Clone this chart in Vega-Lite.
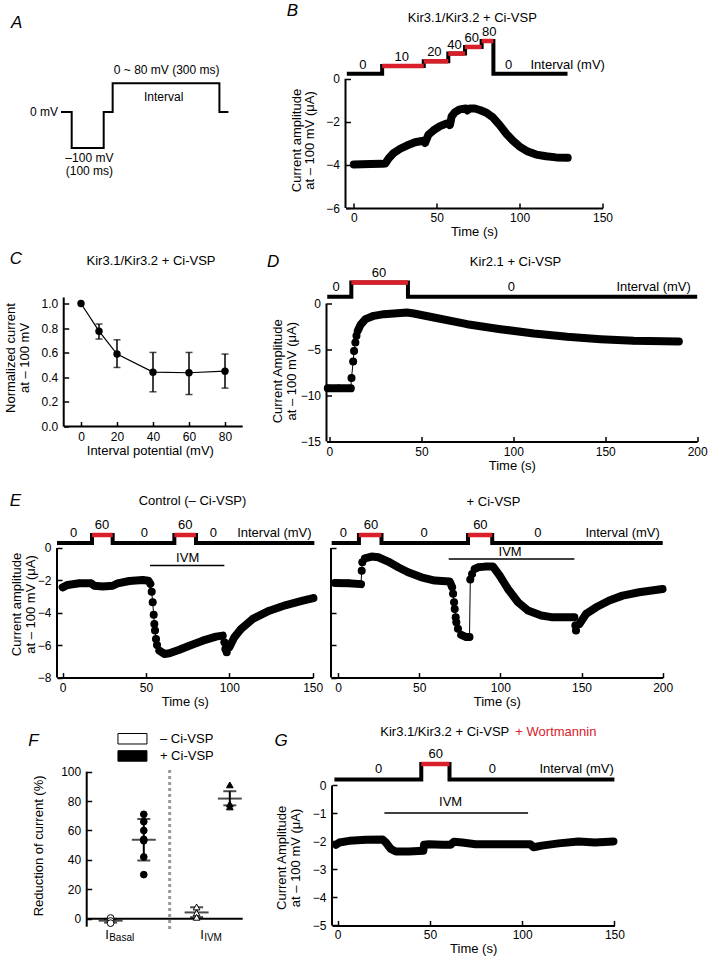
{
  "$schema": "https://vega.github.io/schema/vega-lite/v6.json",
  "padding": {"left": 4, "top": 1, "right": 0, "bottom": 0},
  "config": {
    "font": "Liberation Sans",
    "view": {"stroke": null},
    "axis": {"grid": false, "domainColor": "black", "domainWidth": 2, "tickColor": "black", "tickWidth": 1.5, "tickSize": -5, "labelColor": "black", "labelFontSize": 12, "labelFlush": false, "labelOverlap": false, "titleFontSize": 13, "titleFontWeight": "normal", "titleColor": "black", "titleLineHeight": 13.5},
    "axisX": {"labelPadding": 9.5, "titlePadding": 2},
    "axisY": {"labelPadding": 11, "domain": false},
    "text": {"fontSize": 13, "color": "black"}
  },
  "datasets": {
    "A_proto": [{"t":-33.4,"mV":0},{"t":0,"mV":-100},{"t":100,"mV":0},{"t":128,"mV":80},{"t":461.6,"mV":0},{"t":489.7,"mV":0}],
    "B_trace": [{"t":0,"I":-3.98,"run":1},{"t":5,"I":-3.97,"run":1},{"t":10,"I":-3.96,"run":1},{"t":17,"I":-3.95,"run":1},{"t":19,"I":-3.93,"run":1},{"t":21,"I":-3.7,"run":1},{"t":24,"I":-3.45,"run":1},{"t":28,"I":-3.25,"run":1},{"t":32,"I":-3.1,"run":1},{"t":37,"I":-2.95,"run":1},{"t":42,"I":-2.88,"run":1},{"t":43,"I":-2.98,"run":1},{"t":45,"I":-2.6,"run":1},{"t":48,"I":-2.4,"run":1},{"t":52,"I":-2.2,"run":1},{"t":56,"I":-2.08,"run":1},{"t":57.5,"I":-2.05,"run":1},{"t":58,"I":-2.15,"run":1},{"t":59,"I":-1.75,"run":1},{"t":61,"I":-1.55,"run":1},{"t":64,"I":-1.42,"run":1},{"t":67.5,"I":-1.38,"run":1},{"t":68.5,"I":-1.47,"run":1},{"t":70,"I":-1.38,"run":1},{"t":73,"I":-1.38,"run":1},{"t":76,"I":-1.45,"run":1},{"t":80,"I":-1.58,"run":1},{"t":84,"I":-1.8,"run":1},{"t":88,"I":-2.15,"run":1},{"t":92,"I":-2.55,"run":1},{"t":96,"I":-2.88,"run":1},{"t":100,"I":-3.15,"run":1},{"t":105,"I":-3.38,"run":1},{"t":110,"I":-3.52,"run":1},{"t":116,"I":-3.6,"run":1},{"t":122,"I":-3.65,"run":1},{"t":129,"I":-3.67,"run":1}],
    "B_step": [{"t":-4.2,"mV":0},{"t":17.1,"mV":10},{"t":42.2,"mV":20},{"t":57,"mV":40},{"t":67.1,"mV":60},{"t":77.1,"mV":80},{"t":84.2,"mV":0},{"t":128.9,"mV":0}],
    "B_labels": [{"t":5.4,"mV":0,"label":"0"},{"t":28.9,"mV":10,"label":"10"},{"t":48.6,"mV":20,"label":"20"},{"t":60.7,"mV":40,"label":"40"},{"t":71.1,"mV":60,"label":"60"},{"t":81.7,"mV":80,"label":"80"},{"t":93.4,"mV":0,"label":"0"},{"t":129,"mV":0,"label":"Interval (mV)"}],
    "C_data": [{"mV":0,"mean":1.0},{"mV":10,"mean":0.775,"lo":0.711,"hi":0.833},{"mV":20,"mean":0.589,"lo":0.48,"hi":0.705},{"mV":40,"mean":0.442,"lo":0.282,"hi":0.602},{"mV":60,"mean":0.437,"lo":0.26,"hi":0.602},{"mV":80,"mean":0.45,"lo":0.312,"hi":0.589}],
    "D_trace": [{"t":-0.9,"I":-9.2,"run":1},{"t":5,"I":-9.2,"run":1},{"t":11.6,"I":-9.22,"run":1},{"t":12.0,"I":-8.1,"run":2},{"t":12.9,"I":-6.3,"run":3},{"t":13.4,"I":-5.15,"run":4},{"t":14.1,"I":-4.24,"run":5},{"t":14.7,"I":-3.5,"run":6},{"t":15.4,"I":-2.97,"run":7},{"t":16.9,"I":-2.32,"run":7},{"t":19.6,"I":-1.7,"run":7},{"t":24.1,"I":-1.34,"run":7},{"t":29.6,"I":-1.16,"run":7},{"t":35,"I":-1.09,"run":7},{"t":42.2,"I":-0.98,"run":7},{"t":45.9,"I":-1.09,"run":7},{"t":56.8,"I":-1.52,"run":7},{"t":74.9,"I":-2.25,"run":7},{"t":93,"I":-2.79,"run":7},{"t":111.2,"I":-3.26,"run":7},{"t":129.3,"I":-3.62,"run":7},{"t":147.4,"I":-3.88,"run":7},{"t":165.5,"I":-4.06,"run":7},{"t":190,"I":-4.13,"run":7}],
    "D_step": [{"t":-1.2,"mV":0},{"t":11.9,"mV":60},{"t":42.7,"mV":0},{"t":200,"mV":0}],
    "D_labels": [{"t":3.6,"mV":0,"label":"0"},{"t":26.9,"mV":60,"label":"60"},{"t":98.9,"mV":0,"label":"0"},{"t":176.3,"mV":0,"label":"Interval (mV)"}],
    "EL_trace": [{"t":0,"I":-2.43,"run":1},{"t":3,"I":-2.28,"run":1},{"t":10,"I":-2.18,"run":1},{"t":17,"I":-2.18,"run":1},{"t":19,"I":-2.33,"run":1},{"t":24,"I":-2.37,"run":1},{"t":30,"I":-2.33,"run":1},{"t":33,"I":-2.18,"run":1},{"t":40,"I":-2.04,"run":1},{"t":48,"I":-1.98,"run":1},{"t":51.4,"I":-2.02,"run":1},{"t":52.6,"I":-2.22,"run":1},{"t":53.4,"I":-2.7,"run":2},{"t":54,"I":-3.35,"run":3},{"t":54.6,"I":-4.12,"run":4},{"t":55,"I":-4.69,"run":5},{"t":55.4,"I":-5.1,"run":6},{"t":56,"I":-5.62,"run":7},{"t":56.6,"I":-5.99,"run":8},{"t":58,"I":-6.34,"run":9},{"t":61,"I":-6.54,"run":9},{"t":64,"I":-6.5,"run":9},{"t":70,"I":-6.28,"run":9},{"t":76,"I":-6.03,"run":9},{"t":84,"I":-5.72,"run":9},{"t":92,"I":-5.47,"run":9},{"t":96,"I":-5.41,"run":9},{"t":97,"I":-5.82,"run":10},{"t":97.6,"I":-6.23,"run":11},{"t":98.4,"I":-6.44,"run":12},{"t":100,"I":-6.13,"run":13},{"t":103,"I":-5.51,"run":13},{"t":107,"I":-5.0,"run":13},{"t":114,"I":-4.38,"run":13},{"t":124,"I":-3.87,"run":13},{"t":134,"I":-3.52,"run":13},{"t":144,"I":-3.25,"run":13},{"t":150.4,"I":-3.09,"run":13}],
    "EL_step": [{"t":-3.4,"mV":0},{"t":17.6,"mV":60},{"t":30,"mV":0},{"t":67,"mV":60},{"t":80,"mV":0},{"t":151,"mV":0}],
    "EL_labels": [{"t":6.6,"mV":0,"label":"0"},{"t":23.6,"mV":60,"label":"60"},{"t":49,"mV":0,"label":"0"},{"t":73.6,"mV":60,"label":"60"},{"t":90.4,"mV":0,"label":"0"},{"t":127,"mV":0,"label":"Interval (mV)"}],
    "EL_ivm": [{"start":52.4,"end":97}],
    "ER_trace": [{"t":-1.8,"I":-2.16,"run":1},{"t":6.4,"I":-2.17,"run":1},{"t":14.2,"I":-2.23,"run":1},{"t":14.6,"I":-1.4,"run":2},{"t":15.0,"I":-0.88,"run":3},{"t":16.6,"I":-0.64,"run":4},{"t":20.7,"I":-0.53,"run":4},{"t":24.8,"I":-0.57,"run":4},{"t":30.9,"I":-0.84,"run":4},{"t":37.1,"I":-1.19,"run":4},{"t":43.2,"I":-1.5,"run":4},{"t":51.4,"I":-1.81,"run":4},{"t":59.6,"I":-2.01,"run":4},{"t":68.8,"I":-2.07,"run":4},{"t":70.3,"I":-2.42,"run":4},{"t":70.9,"I":-2.83,"run":5},{"t":71.5,"I":-3.35,"run":6},{"t":71.9,"I":-3.76,"run":7},{"t":72.5,"I":-4.27,"run":8},{"t":72.9,"I":-4.58,"run":9},{"t":73.9,"I":-4.99,"run":10},{"t":75.9,"I":-5.36,"run":11},{"t":79,"I":-5.5,"run":11},{"t":81,"I":-5.5,"run":11},{"t":81.5,"I":-1.94,"run":12},{"t":82.6,"I":-1.6,"run":13},{"t":84.2,"I":-1.29,"run":14},{"t":86.3,"I":-1.19,"run":14},{"t":90.4,"I":-1.15,"run":14},{"t":95.5,"I":-1.15,"run":14},{"t":99.6,"I":-1.71,"run":14},{"t":104.7,"I":-2.53,"run":14},{"t":110.9,"I":-3.35,"run":14},{"t":117,"I":-3.86,"run":14},{"t":125.2,"I":-4.17,"run":14},{"t":131.4,"I":-4.27,"run":14},{"t":145.6,"I":-4.28,"run":14},{"t":146.2,"I":-4.79,"run":15},{"t":146.6,"I":-5.1,"run":16},{"t":148.7,"I":-4.69,"run":17},{"t":152.8,"I":-4.07,"run":17},{"t":159,"I":-3.66,"run":17},{"t":167.1,"I":-3.24,"run":17},{"t":175.3,"I":-2.94,"run":17},{"t":185.5,"I":-2.73,"run":17},{"t":199.9,"I":-2.53,"run":17}],
    "ER_step": [{"t":-3.9,"mV":0},{"t":12.9,"mV":60},{"t":26.8,"mV":0},{"t":80.1,"mV":60},{"t":95,"mV":0},{"t":200,"mV":0}],
    "ER_labels": [{"t":3.3,"mV":0,"label":"0"},{"t":20.3,"mV":60,"label":"60"},{"t":53.1,"mV":0,"label":"0"},{"t":87.7,"mV":60,"label":"60"},{"t":123.1,"mV":0,"label":"0"},{"t":175.3,"mV":0,"label":"Interval (mV)"}],
    "ER_ivm": [{"start":68.2,"end":145.6}],
    "F_points": [{"measure":"IBasal","cond":"– Ci-VSP","value":0.5},{"measure":"IBasal","cond":"– Ci-VSP","value":-1.5},{"measure":"IBasal","cond":"– Ci-VSP","value":-3},{"measure":"IBasal","cond":"+ Ci-VSP","value":71},{"measure":"IBasal","cond":"+ Ci-VSP","value":66},{"measure":"IBasal","cond":"+ Ci-VSP","value":60},{"measure":"IBasal","cond":"+ Ci-VSP","value":54},{"measure":"IBasal","cond":"+ Ci-VSP","value":53},{"measure":"IBasal","cond":"+ Ci-VSP","value":42},{"measure":"IBasal","cond":"+ Ci-VSP","value":30},{"measure":"IVM","cond":"– Ci-VSP","value":8},{"measure":"IVM","cond":"– Ci-VSP","value":4},{"measure":"IVM","cond":"– Ci-VSP","value":1},{"measure":"IVM","cond":"+ Ci-VSP","value":91},{"measure":"IVM","cond":"+ Ci-VSP","value":78},{"measure":"IVM","cond":"+ Ci-VSP","value":76}],
    "F_summary": [{"measure":"IBasal","cond":"– Ci-VSP","mean":-1.3,"lo":-2.6,"hi":-0.1},{"measure":"IBasal","cond":"+ Ci-VSP","mean":53.7,"lo":39.6,"hi":67.8},{"measure":"IVM","cond":"– Ci-VSP","mean":4.3,"lo":1.1,"hi":7.8},{"measure":"IVM","cond":"+ Ci-VSP","mean":81.7,"lo":77.1,"hi":86.7}],
    "G_trace": [{"t":-0.9,"I":-2.12,"run":1},{"t":0.9,"I":-2.04,"run":1},{"t":6.3,"I":-1.98,"run":1},{"t":15.3,"I":-1.94,"run":1},{"t":24.3,"I":-1.93,"run":1},{"t":26.1,"I":-2.04,"run":1},{"t":28.8,"I":-2.27,"run":1},{"t":31.5,"I":-2.36,"run":1},{"t":38.7,"I":-2.36,"run":1},{"t":46.4,"I":-2.33,"run":1},{"t":46.8,"I":-2.12,"run":1},{"t":49.5,"I":-2.1,"run":1},{"t":56.7,"I":-2.12,"run":1},{"t":61.2,"I":-2.12,"run":1},{"t":63,"I":-2.01,"run":1},{"t":67.5,"I":-2.04,"run":1},{"t":74.7,"I":-2.1,"run":1},{"t":92.7,"I":-2.1,"run":1},{"t":104.4,"I":-2.1,"run":1},{"t":106.2,"I":-2.21,"run":1},{"t":110.7,"I":-2.15,"run":1},{"t":119.7,"I":-2.07,"run":1},{"t":130.5,"I":-2.0,"run":1},{"t":139.5,"I":-2.04,"run":1},{"t":149.5,"I":-2.0,"run":1}],
    "G_step": [{"t":-1.8,"mV":0},{"t":45.3,"mV":60},{"t":60.6,"mV":0},{"t":150,"mV":0}],
    "G_labels": [{"t":22.2,"mV":0,"label":"0"},{"t":53.2,"mV":60,"label":"60"},{"t":83.9,"mV":0,"label":"0"},{"t":129.5,"mV":0,"label":"Interval (mV)"}],
    "G_ivm": [{"start":25.3,"end":103.2}]
  },
  "spacing": 10.5,
  "vconcat": [
    {
      "hconcat": [
        {
          "width": 185.7, "height": 167,
          "layer": [
            {"data": {"name": "A_proto"}, "mark": {"type": "line", "interpolate": "step-after", "color": "black", "strokeWidth": 2},
             "encoding": {"x": {"field": "t", "type": "quantitative", "scale": {"domain": [-45.9, 534.4], "nice": false, "zero": false}, "axis": null},
                          "y": {"field": "mV", "type": "quantitative", "scale": {"domain": [-266.7, 197.2], "nice": false, "zero": false}, "axis": null}}},
            {"data": {"values": [{}]}, "mark": {"type": "text", "text": "0 mV", "align": "right", "dx": -3, "fontSize": 12}, "encoding": {"x": {"datum": -33.4, "axis": null}, "y": {"datum": 0, "axis": null}}},
            {"data": {"values": [{}]}, "mark": {"type": "text", "text": "0 ~ 80 mV (300 ms)", "fontSize": 12}, "encoding": {"x": {"datum": 296.9, "axis": null}, "y": {"datum": 116.7, "axis": null}}},
            {"data": {"values": [{}]}, "mark": {"type": "text", "text": "Interval", "fontSize": 12}, "encoding": {"x": {"datum": 287.5, "axis": null}, "y": {"datum": 41.7, "axis": null}}},
            {"data": {"values": [{}]}, "mark": {"type": "text", "text": "–100 mV", "fontSize": 12}, "encoding": {"x": {"datum": 55.3, "axis": null}, "y": {"datum": -128.5, "axis": null}}},
            {"data": {"values": [{}]}, "mark": {"type": "text", "text": "(100 ms)", "fontSize": 12}, "encoding": {"x": {"datum": 55.3, "axis": null}, "y": {"datum": -163, "axis": null}}},
            {"data": {"values": [{}]}, "mark": {"type": "text", "text": "A", "fontSize": 17, "fontStyle": "italic"}, "encoding": {"x": {"datum": -171.9, "axis": null}, "y": {"datum": 247.2, "axis": null}}}
          ]
        },
        {
          "width": 257, "height": 167,
          "layer": [
            {"data": {"name": "B_trace"}, "mark": {"type": "line", "color": "black", "strokeWidth": 8, "strokeCap": "round", "strokeJoin": "round"},
             "encoding": {"x": {"field": "t", "type": "quantitative", "scale": {"domain": [-5, 150], "nice": false, "zero": false}, "axis": {"values": [0, 50, 100, 150], "title": "Time (s)"}},
                          "y": {"field": "I", "type": "quantitative", "scale": {"domain": [-6, 1.753], "nice": false, "zero": false}, "axis": {"values": [-6, -4, -2, 0], "title": ["Current amplitude", "at – 100 mV (μA)"], "titleY": 99, "titlePadding": 9}},
                          "detail": {"field": "run", "type": "nominal"}}},
            {"data": {"values": [{}]}, "mark": {"type": "rule", "color": "black", "strokeWidth": 2}, "encoding": {"x": {"datum": -5}, "y": {"datum": -6, "scale": {"domain": [-6, 1.753], "nice": false, "zero": false}, "axis": null}, "y2": {"datum": 0}}},
            {"data": {"values": [{}]}, "mark": {"type": "text", "text": "B", "fontSize": 17, "fontStyle": "italic"}, "encoding": {"x": {"datum": -37}, "y": {"datum": 3.15, "scale": {"domain": [-6, 1.753], "nice": false, "zero": false}, "axis": null}}},
            {"data": {"values": [{}]}, "mark": {"type": "text", "text": "Kir3.1/Kir3.2 + Ci-VSP"}, "encoding": {"x": {"datum": 71.5}, "y": {"datum": 2.82, "scale": {"domain": [-6, 1.753], "nice": false, "zero": false}, "axis": null}}},
            {"data": {"name": "B_step"}, "mark": {"type": "line", "interpolate": "step-after", "color": "black", "strokeWidth": 4},
             "encoding": {"x": {"field": "t", "type": "quantitative"}, "y": {"field": "mV", "type": "quantitative", "scale": {"type": "pow", "exponent": 0.7, "domain": [-601.8, 80], "nice": false, "zero": false}, "axis": null}}},
            {"data": {"name": "B_step"}, "transform": [{"window": [{"op": "lead", "field": "t", "as": "t_next"}], "sort": [{"field": "t"}]}, {"filter": "datum.mV > 0"}],
             "mark": {"type": "rule", "color": "#d9202a", "strokeWidth": 4.5},
             "encoding": {"x": {"field": "t", "type": "quantitative"}, "x2": {"field": "t_next"}, "y": {"field": "mV", "type": "quantitative", "scale": {"type": "pow", "exponent": 0.7, "domain": [-601.8, 80], "nice": false, "zero": false}, "axis": null}}},
            {"data": {"name": "B_labels"}, "mark": {"type": "text", "dy": -9},
             "encoding": {"x": {"field": "t", "type": "quantitative"}, "y": {"field": "mV", "type": "quantitative", "scale": {"type": "pow", "exponent": 0.7, "domain": [-601.8, 80], "nice": false, "zero": false}, "axis": null}, "text": {"field": "label"}}}
          ],
          "resolve": {"scale": {"y": "independent"}}
        }
      ],
      "spacing": 43.5
    },
    {
      "spacing": 18.5,
      "vconcat": [
        {
          "hconcat": [
            {
              "width": 185.7, "height": 144,
              "layer": [
                {"data": {"name": "C_data"}, "mark": {"type": "line", "color": "black", "strokeWidth": 1.2},
                 "encoding": {"x": {"field": "mV", "type": "quantitative", "scale": {"domain": [-13.33, 89.83], "nice": false, "zero": false}, "axis": {"values": [0, 20, 40, 60, 80], "title": "Interval potential (mV)", "domain": false}},
                              "y": {"field": "mean", "type": "quantitative", "scale": {"domain": [0, 1.1707], "nice": false, "zero": false}, "axis": {"values": [0, 0.2, 0.4, 0.6, 0.8, 1], "format": ".1f", "labelOverlap": false, "offset": -6.7, "title": ["Normalized current", "at – 100 mV"], "titleY": 75, "titlePadding": 10}}}},
                {"data": {"name": "C_data"}, "mark": {"type": "rule", "color": "black", "strokeWidth": 1.5}, "encoding": {"x": {"field": "mV", "type": "quantitative"}, "y": {"field": "lo", "type": "quantitative", "scale": {"domain": [0, 1.1707], "nice": false, "zero": false}, "axis": null}, "y2": {"field": "hi"}}},
                {"data": {"name": "C_data"}, "mark": {"type": "tick", "orient": "horizontal", "color": "black", "size": 7, "thickness": 1.5}, "encoding": {"x": {"field": "mV", "type": "quantitative"}, "y": {"field": "lo", "type": "quantitative", "scale": {"domain": [0, 1.1707], "nice": false, "zero": false}, "axis": null}}},
                {"data": {"name": "C_data"}, "mark": {"type": "tick", "orient": "horizontal", "color": "black", "size": 7, "thickness": 1.5}, "encoding": {"x": {"field": "mV", "type": "quantitative"}, "y": {"field": "hi", "type": "quantitative", "scale": {"domain": [0, 1.1707], "nice": false, "zero": false}, "axis": null}}},
                {"data": {"name": "C_data"}, "mark": {"type": "circle", "color": "black", "size": 55, "opacity": 1}, "encoding": {"x": {"field": "mV", "type": "quantitative"}, "y": {"field": "mean", "type": "quantitative", "scale": {"domain": [0, 1.1707], "nice": false, "zero": false}, "axis": null}}},
                {"data": {"values": [{}]}, "mark": {"type": "rule", "color": "black", "strokeWidth": 2}, "encoding": {"x": {"datum": -9.6}, "y": {"datum": 0, "scale": {"domain": [0, 1.1707], "nice": false, "zero": false}, "axis": null}, "y2": {"datum": 1.049}}},
                {"data": {"values": [{}]}, "mark": {"type": "rule", "color": "black", "strokeWidth": 2}, "encoding": {"x": {"datum": -9.6}, "x2": {"datum": 89.83}, "y": {"datum": 0, "scale": {"domain": [0, 1.1707], "nice": false, "zero": false}, "axis": null}}},
                {"data": {"values": [{}]}, "mark": {"type": "text", "text": "C", "fontSize": 17, "fontStyle": "italic"}, "encoding": {"x": {"datum": -36.1}, "y": {"datum": 1.361, "scale": {"domain": [0, 1.1707], "nice": false, "zero": false}, "axis": null}}},
                {"data": {"values": [{}]}, "mark": {"type": "text", "text": "Kir3.1/Kir3.2 + Ci-VSP"}, "encoding": {"x": {"datum": 38.9}, "y": {"datum": 1.345, "scale": {"domain": [0, 1.1707], "nice": false, "zero": false}, "axis": null}}}
              ],
              "resolve": {"scale": {"y": "independent"}}
            },
            {
              "width": 370.7, "height": 159,
              "layer": [
                {"data": {"name": "D_trace"}, "mark": {"type": "line", "color": "black", "strokeWidth": 1},
                 "encoding": {"x": {"field": "t", "type": "quantitative", "scale": {"domain": [-1.6, 200], "nice": false, "zero": false}, "axis": {"values": [0, 50, 100, 150, 200], "title": "Time (s)"}},
                              "y": {"field": "I", "type": "quantitative", "scale": {"domain": [-15, 2.283], "nice": false, "zero": false}, "axis": {"values": [-15, -10, -5, 0], "title": ["Current Amplitude", "at – 100 mV (μA)"], "titleY": 88.3, "titlePadding": 2}}}},
                {"data": {"name": "D_trace"}, "mark": {"type": "line", "color": "black", "strokeWidth": 8, "strokeCap": "round", "strokeJoin": "round"},
                 "encoding": {"x": {"field": "t", "type": "quantitative"}, "y": {"field": "I", "type": "quantitative", "scale": {"domain": [-15, 2.283], "nice": false, "zero": false}, "axis": null}, "detail": {"field": "run", "type": "nominal"}}},
                {"data": {"name": "D_trace"}, "mark": {"type": "circle", "color": "black", "size": 50, "opacity": 1},
                 "encoding": {"x": {"field": "t", "type": "quantitative"}, "y": {"field": "I", "type": "quantitative", "scale": {"domain": [-15, 2.283], "nice": false, "zero": false}, "axis": null}}},
                {"data": {"values": [{}]}, "mark": {"type": "rule", "color": "black", "strokeWidth": 2}, "encoding": {"x": {"datum": -1.6}, "y": {"datum": -15, "scale": {"domain": [-15, 2.283], "nice": false, "zero": false}, "axis": null}, "y2": {"datum": 0}}},
                {"data": {"values": [{}]}, "mark": {"type": "text", "text": "D", "fontSize": 17, "fontStyle": "italic"}, "encoding": {"x": {"datum": -30.6}, "y": {"datum": 4.457, "scale": {"domain": [-15, 2.283], "nice": false, "zero": false}, "axis": null}}},
                {"data": {"values": [{}]}, "mark": {"type": "text", "text": "Kir2.1 + Ci-VSP"}, "encoding": {"x": {"datum": 101.2}, "y": {"datum": 4.457, "scale": {"domain": [-15, 2.283], "nice": false, "zero": false}, "axis": null}}},
                {"data": {"name": "D_step"}, "mark": {"type": "line", "interpolate": "step-after", "color": "black", "strokeWidth": 4},
                 "encoding": {"x": {"field": "t", "type": "quantitative"}, "y": {"field": "mV", "type": "quantitative", "scale": {"domain": [-607.1, 60], "nice": false, "zero": false}, "axis": null}}},
                {"data": {"name": "D_step"}, "transform": [{"window": [{"op": "lead", "field": "t", "as": "t_next"}], "sort": [{"field": "t"}]}, {"filter": "datum.mV > 0"}],
                 "mark": {"type": "rule", "color": "#d9202a", "strokeWidth": 4.5},
                 "encoding": {"x": {"field": "t", "type": "quantitative"}, "x2": {"field": "t_next"}, "y": {"field": "mV", "type": "quantitative", "scale": {"domain": [-607.1, 60], "nice": false, "zero": false}, "axis": null}}},
                {"data": {"name": "D_labels"}, "mark": {"type": "text", "dy": -10},
                 "encoding": {"x": {"field": "t", "type": "quantitative"}, "y": {"field": "mV", "type": "quantitative", "scale": {"domain": [-607.1, 60], "nice": false, "zero": false}, "axis": null}, "text": {"field": "label"}}}
              ],
              "resolve": {"scale": {"y": "independent"}}
            }
          ],
          "spacing": 22.5
        },
        {
          "spacing": 17,
          "vconcat": [
            {
              "hconcat": [
                {
                  "width": 255.7, "height": 142.6,
                  "layer": [
                    {"data": {"name": "EL_trace"}, "mark": {"type": "line", "color": "black", "strokeWidth": 1},
                     "encoding": {"x": {"field": "t", "type": "quantitative", "scale": {"domain": [-3.4, 150], "nice": false, "zero": false}, "axis": {"values": [0, 50, 100, 150], "title": "Time (s)"}},
                                  "y": {"field": "I", "type": "quantitative", "scale": {"domain": [-8, 0.802], "nice": false, "zero": false}, "axis": {"values": [-8, -6, -4, -2, 0], "title": ["Current amplitude", "at – 100 mV (μA)"], "titleY": 69, "titlePadding": 0}}}},
                    {"data": {"name": "EL_trace"}, "mark": {"type": "line", "color": "black", "strokeWidth": 8, "strokeCap": "round", "strokeJoin": "round"},
                     "encoding": {"x": {"field": "t", "type": "quantitative"}, "y": {"field": "I", "type": "quantitative", "scale": {"domain": [-8, 0.802], "nice": false, "zero": false}, "axis": null}, "detail": {"field": "run", "type": "nominal"}}},
                    {"data": {"name": "EL_trace"}, "mark": {"type": "circle", "color": "black", "size": 50, "opacity": 1},
                     "encoding": {"x": {"field": "t", "type": "quantitative"}, "y": {"field": "I", "type": "quantitative", "scale": {"domain": [-8, 0.802], "nice": false, "zero": false}, "axis": null}}},
                    {"data": {"values": [{}]}, "mark": {"type": "rule", "color": "black", "strokeWidth": 2}, "encoding": {"x": {"datum": -3.4}, "y": {"datum": -8, "scale": {"domain": [-8, 0.802], "nice": false, "zero": false}, "axis": null}, "y2": {"datum": 0}}},
                    {"data": {"name": "EL_ivm"}, "mark": {"type": "rule", "color": "black", "strokeWidth": 1.5}, "encoding": {"x": {"field": "start", "type": "quantitative"}, "x2": {"field": "end"}, "y": {"datum": -1.086, "scale": {"domain": [-8, 0.802], "nice": false, "zero": false}, "axis": null}}},
                    {"data": {"values": [{}]}, "mark": {"type": "text", "text": "IVM"}, "encoding": {"x": {"datum": 75}, "y": {"datum": -0.62, "scale": {"domain": [-8, 0.802], "nice": false, "zero": false}, "axis": null}}},
                    {"data": {"values": [{}]}, "mark": {"type": "text", "text": "E", "fontSize": 17, "fontStyle": "italic"}, "encoding": {"x": {"datum": -28.4}, "y": {"datum": 2.926, "scale": {"domain": [-8, 0.802], "nice": false, "zero": false}, "axis": null}}},
                    {"data": {"values": [{}]}, "mark": {"type": "text", "text": "Control (– Ci-VSP)"}, "encoding": {"x": {"datum": 77.9}, "y": {"datum": 2.883, "scale": {"domain": [-8, 0.802], "nice": false, "zero": false}, "axis": null}}},
                    {"data": {"name": "EL_step"}, "mark": {"type": "line", "interpolate": "step-after", "color": "black", "strokeWidth": 4},
                     "encoding": {"x": {"field": "t", "type": "quantitative"}, "y": {"field": "mV", "type": "quantitative", "scale": {"domain": [-1009.5, 60], "nice": false, "zero": false}, "axis": null}}},
                    {"data": {"name": "EL_step"}, "transform": [{"window": [{"op": "lead", "field": "t", "as": "t_next"}], "sort": [{"field": "t"}]}, {"filter": "datum.mV > 0"}],
                     "mark": {"type": "rule", "color": "#d9202a", "strokeWidth": 4.5},
                     "encoding": {"x": {"field": "t", "type": "quantitative"}, "x2": {"field": "t_next"}, "y": {"field": "mV", "type": "quantitative", "scale": {"domain": [-1009.5, 60], "nice": false, "zero": false}, "axis": null}}},
                    {"data": {"name": "EL_labels"}, "mark": {"type": "text", "dy": -10},
                     "encoding": {"x": {"field": "t", "type": "quantitative"}, "y": {"field": "mV", "type": "quantitative", "scale": {"domain": [-1009.5, 60], "nice": false, "zero": false}, "axis": null}, "text": {"field": "label"}}}
                  ],
                  "resolve": {"scale": {"y": "independent"}}
                },
                {
                  "width": 331.7, "height": 142.6,
                  "layer": [
                    {"data": {"name": "ER_trace"}, "mark": {"type": "line", "color": "black", "strokeWidth": 1},
                     "encoding": {"x": {"field": "t", "type": "quantitative", "scale": {"domain": [-4.3, 200], "nice": false, "zero": false}, "axis": {"values": [0, 50, 100, 150, 200], "title": "Time (s)"}},
                                  "y": {"field": "I", "type": "quantitative", "scale": {"domain": [-8, 0.802], "nice": false, "zero": false}, "axis": {"values": [-8, -6, -4, -2, 0], "labels": false, "title": null}}}},
                    {"data": {"name": "ER_trace"}, "mark": {"type": "line", "color": "black", "strokeWidth": 8, "strokeCap": "round", "strokeJoin": "round"},
                     "encoding": {"x": {"field": "t", "type": "quantitative"}, "y": {"field": "I", "type": "quantitative", "scale": {"domain": [-8, 0.802], "nice": false, "zero": false}, "axis": null}, "detail": {"field": "run", "type": "nominal"}}},
                    {"data": {"name": "ER_trace"}, "mark": {"type": "circle", "color": "black", "size": 50, "opacity": 1},
                     "encoding": {"x": {"field": "t", "type": "quantitative"}, "y": {"field": "I", "type": "quantitative", "scale": {"domain": [-8, 0.802], "nice": false, "zero": false}, "axis": null}}},
                    {"data": {"values": [{}]}, "mark": {"type": "rule", "color": "black", "strokeWidth": 2}, "encoding": {"x": {"datum": -4.3}, "y": {"datum": -8, "scale": {"domain": [-8, 0.802], "nice": false, "zero": false}, "axis": null}, "y2": {"datum": 0}}},
                    {"data": {"name": "ER_ivm"}, "mark": {"type": "rule", "color": "black", "strokeWidth": 1.5}, "encoding": {"x": {"field": "start", "type": "quantitative"}, "x2": {"field": "end"}, "y": {"datum": -0.68, "scale": {"domain": [-8, 0.802], "nice": false, "zero": false}, "axis": null}}},
                    {"data": {"values": [{}]}, "mark": {"type": "text", "text": "IVM"}, "encoding": {"x": {"datum": 106}, "y": {"datum": -0.265, "scale": {"domain": [-8, 0.802], "nice": false, "zero": false}, "axis": null}}},
                    {"data": {"values": [{}]}, "mark": {"type": "text", "text": "+ Ci-VSP"}, "encoding": {"x": {"datum": 95.8}, "y": {"datum": 2.864, "scale": {"domain": [-8, 0.802], "nice": false, "zero": false}, "axis": null}}},
                    {"data": {"name": "ER_step"}, "mark": {"type": "line", "interpolate": "step-after", "color": "black", "strokeWidth": 4},
                     "encoding": {"x": {"field": "t", "type": "quantitative"}, "y": {"field": "mV", "type": "quantitative", "scale": {"domain": [-1009.5, 60], "nice": false, "zero": false}, "axis": null}}},
                    {"data": {"name": "ER_step"}, "transform": [{"window": [{"op": "lead", "field": "t", "as": "t_next"}], "sort": [{"field": "t"}]}, {"filter": "datum.mV > 0"}],
                     "mark": {"type": "rule", "color": "#d9202a", "strokeWidth": 4.5},
                     "encoding": {"x": {"field": "t", "type": "quantitative"}, "x2": {"field": "t_next"}, "y": {"field": "mV", "type": "quantitative", "scale": {"domain": [-1009.5, 60], "nice": false, "zero": false}, "axis": null}}},
                    {"data": {"name": "ER_labels"}, "mark": {"type": "text", "dy": -10},
                     "encoding": {"x": {"field": "t", "type": "quantitative"}, "y": {"field": "mV", "type": "quantitative", "scale": {"domain": [-1009.5, 60], "nice": false, "zero": false}, "axis": null}, "text": {"field": "label"}}}
                  ],
                  "resolve": {"scale": {"y": "independent"}}
                }
              ],
              "spacing": 0
            },
            {
              "hconcat": [
                {
                  "width": 185.7, "height": 162.7,
                  "layer": [
                    {"data": {"name": "F_summary"}, "mark": {"type": "rule", "color": "black", "strokeWidth": 2},
                     "encoding": {"x": {"field": "measure", "type": "nominal", "scale": {"type": "band", "domain": ["IBasal", "IVM"], "paddingInner": 0.314, "paddingOuter": 0.2365, "align": 1}, "axis": null},
                                  "xOffset": {"field": "cond", "type": "nominal", "scale": {"domain": ["– Ci-VSP", "+ Ci-VSP"], "paddingInner": 0.223, "paddingOuter": 0}},
                                  "y": {"field": "lo", "type": "quantitative", "scale": {"domain": [-5.4, 105.2], "nice": false, "zero": false}, "axis": {"values": [0, 20, 40, 60, 80, 100], "labelOverlap": false, "offset": -29.7, "title": "Reduction of current (%)", "titlePadding": 15.5}},
                                  "y2": {"field": "hi"}}},
                    {"data": {"values": [{}]}, "mark": {"type": "rule", "color": "#9a9a9a", "strokeWidth": 3, "strokeDash": [3, 3]}, "encoding": {"x": {"datum": "IBasal", "bandPosition": 1.22, "axis": null}, "y": {"datum": -7, "scale": {"domain": [-5.4, 105.2], "nice": false, "zero": false}, "axis": null}, "y2": {"datum": 101.8}}},
                    {"data": {"name": "F_summary"}, "mark": {"type": "tick", "orient": "horizontal", "color": "black", "size": 24, "thickness": 2},
                     "encoding": {"x": {"field": "measure", "type": "nominal", "axis": null}, "xOffset": {"field": "cond", "type": "nominal"}, "y": {"field": "mean", "type": "quantitative", "scale": {"domain": [-5.4, 105.2], "nice": false, "zero": false}, "axis": null}}},
                    {"data": {"name": "F_summary"}, "mark": {"type": "tick", "orient": "horizontal", "color": "black", "size": 13, "thickness": 2},
                     "encoding": {"x": {"field": "measure", "type": "nominal", "axis": null}, "xOffset": {"field": "cond", "type": "nominal"}, "y": {"field": "lo", "type": "quantitative", "scale": {"domain": [-5.4, 105.2], "nice": false, "zero": false}, "axis": null}}},
                    {"data": {"name": "F_summary"}, "mark": {"type": "tick", "orient": "horizontal", "color": "black", "size": 13, "thickness": 2},
                     "encoding": {"x": {"field": "measure", "type": "nominal", "axis": null}, "xOffset": {"field": "cond", "type": "nominal"}, "y": {"field": "hi", "type": "quantitative", "scale": {"domain": [-5.4, 105.2], "nice": false, "zero": false}, "axis": null}}},
                    {"data": {"values": [{}]}, "mark": {"type": "rule", "color": "black", "strokeWidth": 2}, "encoding": {"x": {"datum": "IBasal", "bandPosition": -0.186, "axis": null}, "y": {"datum": -5.4, "scale": {"domain": [-5.4, 105.2], "nice": false, "zero": false}, "axis": null}, "y2": {"datum": 100}}},
                    {"data": {"values": [{}]}, "mark": {"type": "rule", "color": "black", "strokeWidth": 2}, "encoding": {"x": {"datum": "IBasal", "bandPosition": -0.186, "axis": null}, "x2": {"datum": "IVM", "bandPosition": 1}, "y": {"datum": 0, "scale": {"domain": [-5.4, 105.2], "nice": false, "zero": false}, "axis": null}}},
                    {"data": {"name": "F_points"}, "mark": {"type": "point", "filled": true, "size": 45, "stroke": "black", "strokeWidth": 1, "opacity": 1},
                     "encoding": {"x": {"field": "measure", "type": "nominal", "axis": null}, "xOffset": {"field": "cond", "type": "nominal"}, "y": {"field": "value", "type": "quantitative", "scale": {"domain": [-5.4, 105.2], "nice": false, "zero": false}, "axis": null},
                                  "fill": {"field": "cond", "type": "nominal", "scale": {"domain": ["– Ci-VSP", "+ Ci-VSP"], "range": ["white", "black"]},
                                           "legend": {"orient": "none", "legendX": 67.45, "legendY": 689.75, "title": null, "symbolType": "M-2,-0.724H2V0.724H-2Z", "symbolSize": 210, "symbolStrokeColor": "black", "symbolStrokeWidth": 1, "labelFontSize": 13, "labelOffset": 19.45, "rowPadding": 1.2, "padding": 0, "symbolOffset": 0, "direction": "vertical", "labelColor": "black", "labelFont": "Liberation Sans"}},
                                  "shape": {"field": "measure", "type": "nominal", "scale": {"domain": ["IBasal", "IVM"], "range": ["circle", "triangle-up"]}, "legend": null}}},
                    {"data": {"values": [{}]}, "mark": {"type": "text", "text": "F", "fontSize": 17, "fontStyle": "italic"}, "encoding": {"x": {"datum": "IBasal", "bandPosition": -1.09, "axis": null}, "y": {"datum": 121, "scale": {"domain": [-5.4, 105.2], "nice": false, "zero": false}, "axis": null}}},
                    {"data": {"values": [{}]}, "mark": {"type": "text", "text": "I"}, "encoding": {"x": {"datum": "IBasal", "bandPosition": 0.158, "axis": null}, "y": {"datum": -10.9, "scale": {"domain": [-5.4, 105.2], "nice": false, "zero": false}, "axis": null}}},
                    {"data": {"values": [{}]}, "mark": {"type": "text", "text": "Basal", "fontSize": 10, "align": "left"}, "encoding": {"x": {"datum": "IBasal", "bandPosition": 0.195, "axis": null}, "y": {"datum": -13.3, "scale": {"domain": [-5.4, 105.2], "nice": false, "zero": false}, "axis": null}}},
                    {"data": {"values": [{}]}, "mark": {"type": "text", "text": "I"}, "encoding": {"x": {"datum": "IVM", "bandPosition": 0.31, "axis": null}, "y": {"datum": -10.9, "scale": {"domain": [-5.4, 105.2], "nice": false, "zero": false}, "axis": null}}},
                    {"data": {"values": [{}]}, "mark": {"type": "text", "text": "IVM", "fontSize": 10, "align": "left"}, "encoding": {"x": {"datum": "IVM", "bandPosition": 0.347, "axis": null}, "y": {"datum": -13.3, "scale": {"domain": [-5.4, 105.2], "nice": false, "zero": false}, "axis": null}}}
                  ],
                  "resolve": {"scale": {"y": "independent"}}
                },
                {
                  "width": 282.4, "height": 161.4,
                  "layer": [
                    {"data": {"name": "G_trace"}, "mark": {"type": "line", "color": "black", "strokeWidth": 8, "strokeCap": "round", "strokeJoin": "round"},
                     "encoding": {"x": {"field": "t", "type": "quantitative", "scale": {"domain": [-3.1, 150], "nice": false, "zero": false}, "axis": {"values": [0, 50, 100, 150], "title": "Time (s)"}},
                                  "y": {"field": "I", "type": "quantitative", "scale": {"domain": [-5, 0.764], "nice": false, "zero": false}, "axis": {"values": [-5, -4, -3, -2, -1, 0], "title": ["Current Amplitude", "at – 100 mV (μA)"], "titleY": 93.4, "titlePadding": 10}},
                                  "detail": {"field": "run", "type": "nominal"}}},
                    {"data": {"values": [{}]}, "mark": {"type": "rule", "color": "black", "strokeWidth": 2}, "encoding": {"x": {"datum": -3.1}, "y": {"datum": -5, "scale": {"domain": [-5, 0.764], "nice": false, "zero": false}, "axis": null}, "y2": {"datum": 0}}},
                    {"data": {"name": "G_ivm"}, "mark": {"type": "rule", "color": "black", "strokeWidth": 1.5}, "encoding": {"x": {"field": "start", "type": "quantitative"}, "x2": {"field": "end"}, "y": {"datum": -0.986, "scale": {"domain": [-5, 0.764], "nice": false, "zero": false}, "axis": null}}},
                    {"data": {"values": [{}]}, "mark": {"type": "text", "text": "IVM"}, "encoding": {"x": {"datum": 61.2}, "y": {"datum": -0.582, "scale": {"domain": [-5, 0.764], "nice": false, "zero": false}, "axis": null}}},
                    {"data": {"values": [{}]}, "mark": {"type": "text", "text": "G", "fontSize": 17, "fontStyle": "italic"}, "encoding": {"x": {"datum": -30.7}, "y": {"datum": 1.6, "scale": {"domain": [-5, 0.764], "nice": false, "zero": false}, "axis": null}}},
                    {"data": {"values": [{}]}, "mark": {"type": "text", "text": "Kir3.1/Kir3.2 + Ci-VSP", "align": "right"}, "encoding": {"x": {"datum": 93}, "y": {"datum": 1.89, "scale": {"domain": [-5, 0.764], "nice": false, "zero": false}, "axis": null}}},
                    {"data": {"values": [{}]}, "mark": {"type": "text", "text": "+ Wortmannin", "align": "left", "color": "#d9202a"}, "encoding": {"x": {"datum": 96.3}, "y": {"datum": 1.89, "scale": {"domain": [-5, 0.764], "nice": false, "zero": false}, "axis": null}}},
                    {"data": {"name": "G_step"}, "mark": {"type": "line", "interpolate": "step-after", "color": "black", "strokeWidth": 4},
                     "encoding": {"x": {"field": "t", "type": "quantitative"}, "y": {"field": "mV", "type": "quantitative", "scale": {"domain": [-568.8, 60], "nice": false, "zero": false}, "axis": null}}},
                    {"data": {"name": "G_step"}, "transform": [{"window": [{"op": "lead", "field": "t", "as": "t_next"}], "sort": [{"field": "t"}]}, {"filter": "datum.mV > 0"}],
                     "mark": {"type": "rule", "color": "#d9202a", "strokeWidth": 4.5},
                     "encoding": {"x": {"field": "t", "type": "quantitative"}, "x2": {"field": "t_next"}, "y": {"field": "mV", "type": "quantitative", "scale": {"domain": [-568.8, 60], "nice": false, "zero": false}, "axis": null}}},
                    {"data": {"name": "G_labels"}, "mark": {"type": "text", "dy": -10},
                     "encoding": {"x": {"field": "t", "type": "quantitative"}, "y": {"field": "mV", "type": "quantitative", "scale": {"domain": [-568.8, 60], "nice": false, "zero": false}, "axis": null}, "text": {"field": "label"}}}
                  ],
                  "resolve": {"scale": {"y": "independent"}}
                }
              ],
              "spacing": 30
            }
          ]
        }
      ]
    }
  ]
}
